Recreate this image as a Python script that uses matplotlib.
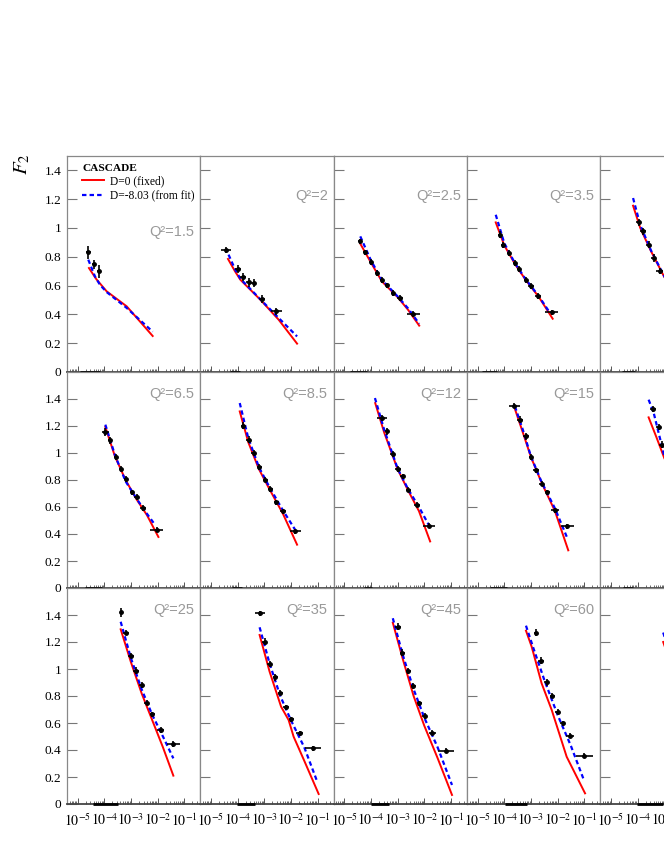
import matplotlib
matplotlib.use('Agg')
import matplotlib.pyplot as plt
from matplotlib.lines import Line2D
from matplotlib.ticker import FixedLocator, LogLocator, NullFormatter
import numpy as np

plt.rcParams['mathtext.fontset'] = 'stix'
plt.rcParams['font.family'] = ['Liberation Serif', 'DejaVu Serif']

# panels row by row, 5 columns (the last column runs off the page)
q2_labels = ['1.5', '2', '2.5', '3.5', '5',
             '6.5', '8.5', '12', '15', '20',
             '25', '35', '45', '60', '90']

x_ticks = [1e-5, 1e-4, 1e-3, 1e-2, 1e-1]
x_tick_labels = [r'$10^{-5}$', r'$10^{-4}$', r'$10^{-3}$', r'$10^{-2}$', r'$10^{-1}$']
y_ticks = [0, 0.2, 0.4, 0.6, 0.8, 1.0, 1.2, 1.4]
y_tick_labels = ['0', '0.2', '0.4', '0.6', '0.8', '1', '1.2', '1.4']
y_max = [1.5, 1.6, 1.6]

# H1 data (log10 x, F2), errors: half width in decades, and dF2
data_lx = [
    [-4.60, -4.386, -4.187],
    [-4.423, -3.985, -3.797, -3.587, -3.40, -3.085, -2.55],
    [-4.404, -4.217, -3.99, -3.78, -3.58, -3.40, -3.18, -2.905, -2.405],
    [-4.16, -4.037, -3.81, -3.60, -3.437, -3.186, -2.998, -2.725, -2.22],
    [-3.96, -3.80, -3.587, -3.40, -3.175],
    [-3.96, -3.786, -3.573, -3.385, -3.186, -2.97, -2.785, -2.537, -2.035],
    [-3.797, -3.587, -3.40, -3.186, -2.96, -2.775, -2.55, -2.30, -1.837],
    [-3.59, -3.40, -3.19, -2.99, -2.804, -2.593, -2.28, -1.81],
    [-3.625, -3.41, -3.186, -2.998, -2.81, -2.60, -2.387, -2.10, -1.637],
    [-3.42, -3.21, -3.08],
    [-3.385, -3.186, -2.998, -2.81, -2.60, -2.41, -2.20, -1.886, -1.41],
    [-3.175, -2.987, -2.80, -2.585, -2.398, -2.185, -1.986, -1.675, -1.175],
    [-2.99, -2.818, -2.593, -2.405, -2.19, -1.99, -1.695, -1.19],
    [-2.81, -2.62, -2.41, -2.20, -1.995, -1.81, -1.536, -0.997],
    [],
]
data_y = [
    [0.83, 0.747, 0.70],
    [0.849, 0.715, 0.66, 0.622, 0.618, 0.507, 0.421],
    [0.907, 0.83, 0.766, 0.688, 0.641, 0.601, 0.549, 0.514, 0.403],
    [0.953, 0.884, 0.826, 0.757, 0.715, 0.641, 0.599, 0.530, 0.414],
    [1.039, 0.977, 0.884, 0.791, 0.699],
    [1.153, 1.093, 0.970, 0.884, 0.807, 0.708, 0.674, 0.593, 0.432],
    [1.202, 1.098, 1.0, 0.896, 0.802, 0.733, 0.634, 0.567, 0.419],
    [1.259, 1.16, 0.993, 0.881, 0.827, 0.728, 0.617, 0.461],
    [1.35, 1.247, 1.123, 0.970, 0.871, 0.773, 0.708, 0.575, 0.456],
    [1.326, 1.193, 1.061],
    [1.42, 1.269, 1.099, 0.988, 0.881, 0.751, 0.664, 0.548, 0.444],
    [1.413, 1.202, 1.037, 0.938, 0.825, 0.716, 0.627, 0.524, 0.413],
    [1.313, 1.121, 0.985, 0.874, 0.746, 0.652, 0.528, 0.395],
    [1.269, 1.061, 0.901, 0.802, 0.684, 0.597, 0.506, 0.358],
    [],
]
data_xe = [
    [0.10, 0.08, 0.08],
    [0.19, 0.12, 0.10, 0.10, 0.10, 0.12, 0.20],
    [0.08, 0.08, 0.08, 0.08, 0.08, 0.08, 0.08, 0.12, 0.25],
    [0.08, 0.08, 0.08, 0.08, 0.08, 0.08, 0.10, 0.12, 0.25],
    [0.10, 0.10, 0.10, 0.10, 0.14],
    [0.12, 0.08, 0.08, 0.08, 0.08, 0.08, 0.10, 0.12, 0.25],
    [0.08, 0.08, 0.10, 0.10, 0.10, 0.10, 0.10, 0.12, 0.20],
    [0.18, 0.08, 0.08, 0.10, 0.10, 0.10, 0.12, 0.22],
    [0.21, 0.10, 0.10, 0.08, 0.10, 0.10, 0.10, 0.14, 0.25],
    [0.12, 0.10, 0.10],
    [0.02, 0.10, 0.10, 0.10, 0.08, 0.10, 0.10, 0.12, 0.25],
    [0.19, 0.10, 0.10, 0.10, 0.10, 0.10, 0.10, 0.14, 0.30],
    [0.10, 0.10, 0.10, 0.10, 0.10, 0.10, 0.14, 0.30],
    [0.08, 0.10, 0.10, 0.10, 0.10, 0.10, 0.16, 0.32],
    [],
]
data_ye = [
    [0.045, 0.03, 0.045],
    [0.02, 0.025, 0.03, 0.03, 0.03, 0.025, 0.025],
    [0.02, 0.02, 0.02, 0.02, 0.02, 0.02, 0.02, 0.02, 0.02],
    [0.025, 0.02, 0.02, 0.02, 0.02, 0.02, 0.02, 0.02, 0.02],
    [0.025, 0.025, 0.025, 0.025, 0.02],
    [0.03, 0.025, 0.02, 0.02, 0.02, 0.02, 0.02, 0.02, 0.02],
    [0.025, 0.025, 0.025, 0.02, 0.02, 0.02, 0.02, 0.02, 0.02],
    [0.025, 0.025, 0.02, 0.02, 0.02, 0.02, 0.02, 0.02],
    [0.02, 0.025, 0.025, 0.025, 0.02, 0.02, 0.02, 0.02, 0.02],
    [0.025, 0.025, 0.025],
    [0.035, 0.02, 0.02, 0.025, 0.025, 0.02, 0.02, 0.02, 0.02],
    [0.02, 0.025, 0.025, 0.025, 0.02, 0.02, 0.02, 0.02, 0.02],
    [0.025, 0.025, 0.025, 0.02, 0.02, 0.02, 0.02, 0.02],
    [0.025, 0.025, 0.025, 0.02, 0.02, 0.02, 0.02, 0.02],
    [],
]

# CASCADE, D=0 (fixed)
red_lx = [
    [-4.575, -4.30, -3.91, -3.16, -2.185],
    [-4.36, -4.10, -3.898, -3.148, -2.46, -1.77],
    [-4.40, -4.00, -3.59, -3.00, -2.60, -2.19],
    [-4.32, -4.00, -3.60, -3.20, -2.70, -2.185],
    [-4.17, -3.90, -3.50, -3.00, -2.50, -2.00],
    [-3.96, -3.60, -3.20, -2.80, -2.40, -1.97],
    [-3.92, -3.60, -3.20, -2.80, -2.30, -1.77],
    [-3.84, -3.50, -3.00, -2.60, -2.20, -1.78],
    [-3.60, -3.30, -3.00, -2.60, -2.10, -1.60],
    [-3.587, -3.30, -3.00, -2.50, -2.00],
    [-3.385, -3.00, -2.60, -2.20, -1.80, -1.41],
    [-3.175, -2.80, -2.37, -2.087, -1.90, -1.50, -0.96],
    [-3.18, -2.80, -2.40, -2.00, -1.50, -0.96],
    [-3.186, -2.972, -2.60, -2.22, -1.66, -0.97],
    [-3.04, -2.60, -2.00, -1.00],
]
red_y = [
    [0.722, 0.645, 0.56, 0.456, 0.25],
    [0.785, 0.70, 0.641, 0.502, 0.363, 0.197],
    [0.891, 0.76, 0.629, 0.52, 0.43, 0.322],
    [1.039, 0.88, 0.75, 0.64, 0.52, 0.37],
    [1.155, 1.00, 0.84, 0.66, 0.52, 0.38],
    [1.193, 0.975, 0.80, 0.66, 0.54, 0.378],
    [1.308, 1.08, 0.88, 0.73, 0.55, 0.321],
    [1.37, 1.15, 0.88, 0.72, 0.57, 0.345],
    [1.326, 1.15, 0.97, 0.78, 0.57, 0.279],
    [1.264, 1.12, 0.963, 0.76, 0.55],
    [1.294, 1.05, 0.82, 0.62, 0.42, 0.21],
    [1.252, 0.98, 0.721, 0.622, 0.499, 0.32, 0.074],
    [1.343, 1.07, 0.80, 0.58, 0.34, 0.067],
    [1.284, 1.165, 0.894, 0.696, 0.35, 0.079],
    [1.20, 0.95, 0.62, 0.10],
]

# CASCADE, D=-8.03 (from fit)
blue_lx = [
    [-4.60, -4.35, -4.16, -3.91, -3.16, -2.185],
    [-4.34, -4.10, -3.898, -3.148, -2.46, -1.77],
    [-4.40, -4.00, -3.59, -3.00, -2.60, -2.19],
    [-4.32, -4.00, -3.60, -3.20, -2.70, -2.285],
    [-4.17, -3.90, -3.50, -3.00, -2.50, -2.10],
    [-3.96, -3.60, -3.20, -2.80, -2.40, -2.10],
    [-3.92, -3.60, -3.20, -2.80, -2.30, -1.837],
    [-3.85, -3.50, -3.00, -2.60, -2.20, -1.81],
    [-3.60, -3.30, -3.00, -2.60, -2.10, -1.637],
    [-3.587, -3.40, -3.00, -2.50, -2.00],
    [-3.385, -3.00, -2.60, -2.20, -1.80, -1.41],
    [-3.175, -2.80, -2.40, -2.00, -1.50, -1.00],
    [-3.18, -2.80, -2.40, -2.00, -1.50, -0.96],
    [-3.186, -2.90, -2.50, -2.00, -1.50, -1.00],
    [-3.04, -2.60, -2.00, -1.00],
]
blue_y = [
    [0.78, 0.664, 0.605, 0.555, 0.445, 0.28],
    [0.815, 0.715, 0.648, 0.505, 0.375, 0.247],
    [0.942, 0.775, 0.64, 0.525, 0.44, 0.335],
    [1.092, 0.895, 0.755, 0.645, 0.525, 0.41],
    [1.208, 1.02, 0.845, 0.665, 0.525, 0.42],
    [1.21, 0.985, 0.79, 0.665, 0.55, 0.469],
    [1.37, 1.11, 0.895, 0.745, 0.575, 0.43],
    [1.407, 1.17, 0.885, 0.73, 0.60, 0.46],
    [1.345, 1.17, 0.975, 0.785, 0.59, 0.37],
    [1.395, 1.30, 0.98, 0.78, 0.58],
    [1.35, 1.08, 0.85, 0.66, 0.50, 0.338],
    [1.309, 1.04, 0.80, 0.62, 0.42, 0.158],
    [1.376, 1.10, 0.85, 0.64, 0.42, 0.141],
    [1.321, 1.15, 0.92, 0.66, 0.43, 0.17],
    [1.27, 1.00, 0.68, 0.18],
]

# short black band drawn on the F2=0 line of each panel (log10 x range)
zero_lo = [-4.91, -4.27, -4.80, -4.84, -4.57,
           -4.72, -4.20, -4.27, -4.54, -4.54,
           -4.42, -4.01, -4.01, -3.97, -4.01]
zero_hi = [-4.16, -3.90, -4.16, -4.27, -4.09,
           -4.09, -3.82, -3.97, -3.90, -4.16,
           -3.49, -3.34, -3.34, -3.15, -3.04]

W, H = 664, 860
fig = plt.figure(figsize=(W / 100, H / 100), dpi=100)
x0, pw, y0, ph = 67, 133.33, 156, 216

for k in range(15):
    r, c = divmod(k, 5)
    ax = fig.add_axes([(x0 + c * pw) / W, 1 - (y0 + (r + 1) * ph) / H, pw / W, ph / H])
    ax.set_xscale('log')
    ax.set_xlim(4e-6, 0.4)
    ax.set_ylim(0, y_max[r])

    ax.plot(10 ** np.array(red_lx[k]), red_y[k], color='#ff0000', lw=1.4, zorder=3)
    ax.plot(10 ** np.array(blue_lx[k]), blue_y[k], color='#0000ff', lw=1.6,
            dashes=(2.0, 1.4), zorder=3)
    if data_lx[k]:
        lx = np.array(data_lx[k])
        xe = np.array(data_xe[k])
        xv = 10 ** lx
        xerr = [xv - 10 ** (lx - xe), 10 ** (lx + xe) - xv]
        ax.errorbar(xv, data_y[k], xerr=xerr, yerr=data_ye[k], fmt='o', ms=2.5,
                    color='black', elinewidth=1.2, capsize=0, zorder=4)
    ax.plot([10 ** zero_lo[k], 10 ** zero_hi[k]], [0, 0], color='black', lw=2.0,
            solid_capstyle='butt', clip_on=False, zorder=5)

    # the Q2 tag of the last column lies beyond the page edge, as in the original
    if c < 4:
        if r == 0 and c == 0:
            ty = 0.65
        elif r == 0:
            ty = 0.816
        else:
            ty = 0.9
        ax.text(0.955, ty, 'Q²=' + q2_labels[k], transform=ax.transAxes, ha='right',
                va='center', fontsize=10.5, color='#999999', family='Liberation Sans')

    ax.xaxis.set_major_locator(FixedLocator(x_ticks))
    ax.xaxis.set_minor_locator(LogLocator(base=10, subs=np.arange(2, 10) * 1.0, numticks=20))
    ax.xaxis.set_minor_formatter(NullFormatter())
    ax.set_xticklabels(x_tick_labels)
    ax.tick_params(axis='x', which='major', direction='in', length=4.5, width=0.7,
                   color='#555555', top=False, labelbottom=(r == 2), labelsize=10, pad=6)
    ax.tick_params(axis='x', which='minor', direction='in', length=2.2, width=0.6,
                   color='#555555', top=False)
    ax.set_yticks(y_ticks)
    ax.set_yticklabels(y_tick_labels)
    ax.tick_params(axis='y', direction='in', length=7.2, width=0.8, color='#777777',
                   right=False, labelleft=(c == 0), labelsize=9.6, pad=4)

    for s in ax.spines.values():
        s.set_color('#888888')
        s.set_linewidth(0.9)
    ax.spines['bottom'].set_color('#444444')
    ax.spines['bottom'].set_linewidth(1.3)

    if k == 0:
        handles = [Line2D([], [], color='#ff0000', lw=1.4),
                   Line2D([], [], color='#0000ff', lw=1.6, dashes=(2.0, 1.4))]
        leg = ax.legend(handles, ['D=0 (fixed)', 'D=-8.03 (from fit)'], title='CASCADE',
                        loc='upper left', bbox_to_anchor=(0.115, 0.965), frameon=False,
                        fontsize=8.3, title_fontproperties={'size': 8.2, 'weight': 'bold'},
                        borderpad=0, borderaxespad=0, handlelength=1.9,
                        handletextpad=0.5, labelspacing=0.25)
        leg._legend_box.align = 'left'

fig.text(22 / W, 1 - 164 / H, r'$F_2$', rotation=90, ha='center', va='center', fontsize=15)

plt.savefig('out.png', dpi=100)
